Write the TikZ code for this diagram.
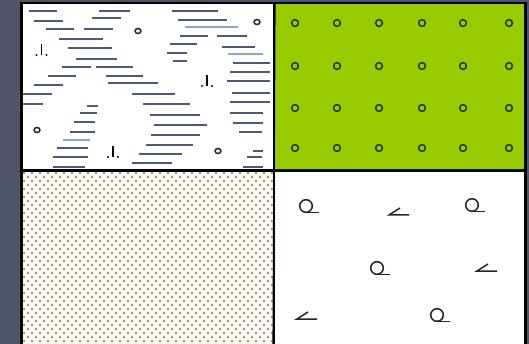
\documentclass[tikz,border=0pt]{standalone}
\usepackage{tikz}
\usetikzlibrary{positioning}
\definecolor{slate}{RGB}{80,84,104}
\definecolor{leafgreen}{RGB}{153,204,0}
\definecolor{sandtone}{RGB}{251,248,240}
\definecolor{water}{RGB}{78,90,116}
\definecolor{waterlt}{RGB}{140,165,205}
\definecolor{seed}{RGB}{30,55,5}
\tikzset{
  panel/.style={draw=black,line width=1.6pt,inner sep=0pt},
  wave/.style={water,line width=1.2pt},
  wavelt/.style={waterlt,line width=1.2pt},
  grain/.style={fill=black!80},
  tuft/.pic={
    \draw[black,line width=1.1pt] (0,0) -- (0,-11);
    \fill[black] (-5,0) circle (1.1pt) (5,0) circle (1.1pt);
  },
  pond/.pic={
    \draw[black!85,line width=1.5pt] (0,0) ellipse (3pt and 2.5pt);
  },
  curl/.pic={
    \draw[black!85,line width=1.5pt] (0,0) circle (6.3pt);
    \draw[black!85,line width=1.5pt] (0,6.3) -- (13,6.3);
  },
  wedge/.pic={
    \draw[black!85,line width=1.5pt] (11,-7) -- (0,0) -- (20,0);
  }
}
\begin{document}
\begin{tikzpicture}[x=1pt,y=-1pt]
\useasboundingbox (0,0) rectangle (529,344);
\fill[slate] (0,0) rectangle (529,344);

% four panels
\node[panel,fill=white,minimum width=252pt,minimum height=166.5pt] (marsh) at (148,86.75) {};
\node[panel,fill=leafgreen,minimum width=251pt,minimum height=166.5pt] (orchard) at (399.5,86.75) {};
\node[panel,fill=sandtone,minimum width=252pt,minimum height=180pt] (sand) at (148,260) {};
\node[panel,fill=white,minimum width=251pt,minimum height=180pt] (scrub) at (399.5,260) {};

% marsh: water dashes
\begin{scope}
\clip (marsh.south west) rectangle (marsh.north east);
\foreach \a/\b/\y in {29/57/11, 99/130/11, 172/218/11, 92/121/18, 34/63/21, 178/227/20,
  46/74/29, 84/113/29, 180/208/36, 217/247/36, 59/103/39, 170/197/44, 222/255/47,
  68/112/48, 167/187/53, 76/117/59, 173/187/61, 233/270/63, 62/91/67, 96/133/67,
  230/270/72, 48/76/76, 106/143/76, 227/270/81, 108/158/83, 34/63/85, 232/270/93,
  23/52/94, 132/175/94, 230/270/102, 23/43/104, 143/190/104, 87/98/106, 80/97/113,
  230/263/113, 150/200/115, 74/95/122, 233/263/123, 154/207/125, 70/95/132,
  239/262/132, 151/200/135, 146/193/145, 57/88/148, 253/263/151, 139/182/154,
  53/88/157, 247/262/157, 132/172/163, 53/85/167, 243/263/167}
  \draw[wave] (\a,\y) -- (\b,\y);
\foreach \a/\b/\y in {185/238/27, 228/263/54, 63/90/140}
  \draw[wavelt] (\a,\y) -- (\b,\y);
\end{scope}
\foreach \x/\y in {138/31, 257/22, 37/130, 218/151}
  \pic at (\x,\y) {pond};
\foreach \x/\y in {41.5/55, 207/86, 113/157}
  \pic at (\x,\y) {tuft};

% orchard: rows of circles
\foreach \x in {295,337,379,422,463,509}
  \foreach \y in {23,66,108,148}
    \draw[seed,line width=1.5pt] (\x,\y) circle (3.4pt);

% sand: staggered dots
\begin{scope}
\clip (sand.south west) rectangle (sand.north east);
\foreach \r in {0,...,42}
  \foreach \c in {0,...,31}
    \fill[grain] ({24+8*\c+4*mod(\r,2)},{173+4*\r}) circle (0.8pt);
\end{scope}

% scrub: curls and wedges
\foreach \x/\y in {306/206, 472/205, 377/268, 437/315}
  \pic at (\x,\y) {curl};
\foreach \x/\y in {389/215, 477/271, 297/319}
  \pic at (\x,\y) {wedge};

% redraw borders on top
\draw[black,line width=1.6pt] (marsh.north west) rectangle (scrub.south east);
\draw[black,line width=1.6pt] (marsh.north east) -- (scrub.south west);
\draw[black,line width=1.8pt] (marsh.south west) -- (orchard.south east);
\end{tikzpicture}
\end{document}
